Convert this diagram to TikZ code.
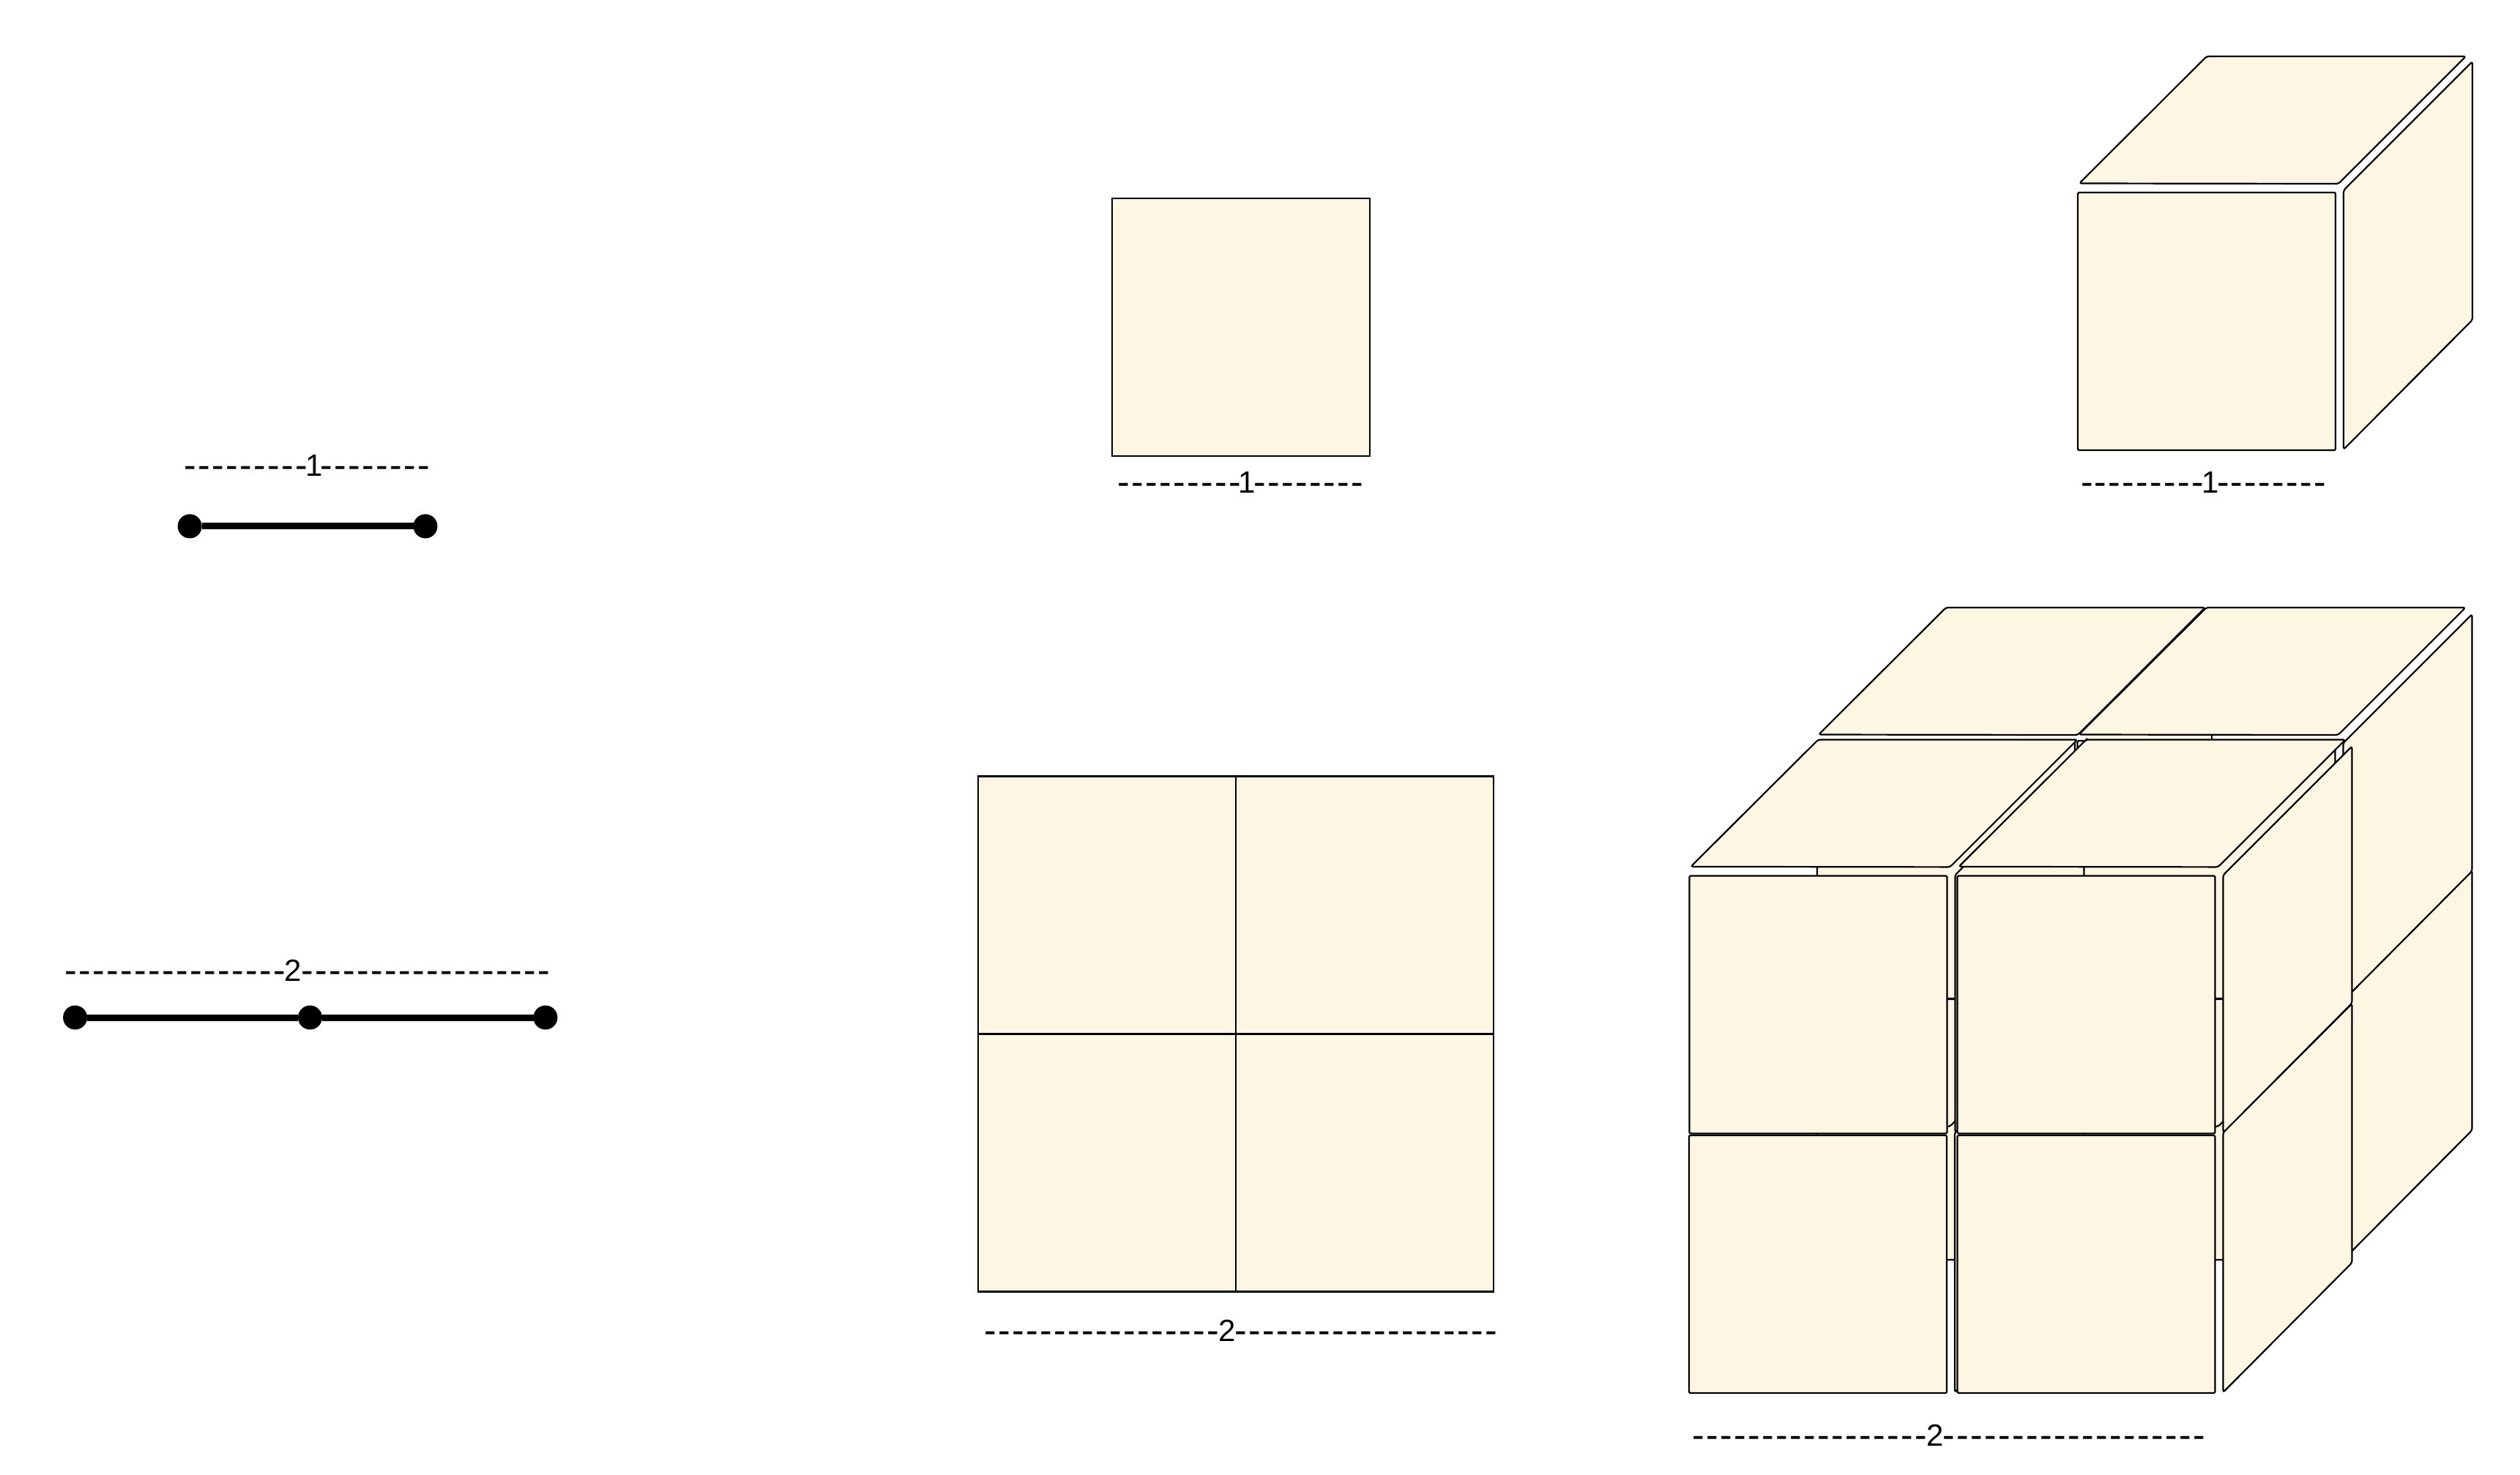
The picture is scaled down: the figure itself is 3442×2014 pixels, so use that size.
\documentclass[tikz,border=0pt]{standalone}
\usepackage{fontspec}
\newfontfamily\dashfont[LetterSpace=4.7]{Liberation Sans}
\newfontfamily\digitfont{Liberation Sans}
\definecolor{facecream}{HTML}{FDF6E3}
\tikzset{
  px/.style={x=1pt,y=-1pt},
  facebox/.style={draw=black,fill=facecream,line width=2.2pt,line join=round,rounded corners=3pt},
  flatbox/.style={draw=black,fill=facecream,line width=2.2pt,minimum width=352pt,minimum height=352pt,inner sep=0pt,outer sep=0pt,anchor=north west},
  bar/.style={draw=black,line width=9pt},
  dot/.style={circle,fill=black,minimum size=33pt,inner sep=0pt,outer sep=0pt},
  dimlabel/.style={inner sep=0pt,outer sep=0pt,anchor=base west}
}
% label: dashes before, kern round the digit, digit, dashes after
\newcommand{\dashrun}[1]{\raisebox{-2pt}{\fontsize{50pt}{50pt}\dashfont #1}}
\newcommand{\dimtext}[4]{\dashrun{#1}\kern#2{\fontsize{42pt}{42pt}\digitfont #3}\kern#2\dashrun{#4}}
% #1 x, #2 y of top face, #3 y of side face, #4 extra side height, #5 y of front face
\newcommand{\unitcube}[5]{%
  \begin{scope}[shift={(#1,#2)}]
    \path[facebox] (2,-12.5) -- (356,-12) -- (530,-186) -- (176,-186) -- cycle;
  \end{scope}
  \begin{scope}[shift={(#1,#3)}]
    \path[facebox] (363,-1) -- (363,351+#4) -- (539,174+#4) -- (539,-177) -- cycle;
  \end{scope}
  \path[facebox,rounded corners=1.5pt] (#1,#5) rectangle ++(352,352);
}
\begin{document}
\begin{tikzpicture}[px]
\useasboundingbox (0,0) rectangle (3442,2014);
% 1D
\node[dot] (a1) at (259.2,718.9) {};
\node[dot] (a2) at (581,718.9) {};
\draw[bar] (a1) -- (a2);
\node[dimlabel] (la) at (251.5,650.7) {\dimtext{---------}{-3pt}{1}{--------}};
\node[dot] (b1) at (102.6,1390) {};
\node[dot] (b2) at (423.5,1390) {};
\node[dot] (b3) at (745,1390) {};
\draw[bar] (b1) -- (b2);
\draw[bar] (b2) -- (b3);
\node[dimlabel] (lb) at (88.5,1340) {\dimtext{----------------}{-1.2pt}{2}{------------------}};
% 2D
\node[flatbox] (s1) at (1519,270.7) {};
\node[dimlabel] (ls1) at (1526.3,673.5) {\dimtext{---------}{-3pt}{1}{--------}};
\node[flatbox] (s2a) at (1336.3,1060.5) {};
\node[flatbox] (s2b) at (1688.3,1060.5) {};
\node[flatbox] (s2c) at (1336.3,1412.5) {};
\node[flatbox] (s2d) at (1688.3,1412.5) {};
\node[dimlabel] (ls2) at (1344.7,1832) {\dimtext{-----------------}{-1.2pt}{2}{-------------------}};
% 3D single
\unitcube{2838}{263}{261}{2}{263}
\node[dimlabel] (lc1) at (2842,673.4) {\dimtext{---------}{-3pt}{1}{--------}};
% 3D block, back to front, bottom to top
\unitcube{2482}{1370}{1366}{4}{1369}
\unitcube{2837.5}{1370}{1366}{4}{1369}
\unitcube{2482}{1016}{1016}{0}{1012}
\path[fill=facecream] (2851,1000) rectangle (3021,1012);
\draw[black,line width=2.2pt] (3021,1004) -- (3021,1012);
\unitcube{2837.5}{1016}{1016}{0}{1012}
\unitcube{2307}{1551}{1548}{3}{1551}
\unitcube{2673.5}{1551}{1548}{3}{1551}
\unitcube{2307.4}{1196.4}{1196.4}{0}{1196.4}
\unitcube{2673.5}{1196.4}{1196.4}{0}{1196.4}
\node[dimlabel] (lc2) at (2311.7,1975) {\dimtext{-----------------}{-1.2pt}{2}{-------------------}};
\end{tikzpicture}
\end{document}
